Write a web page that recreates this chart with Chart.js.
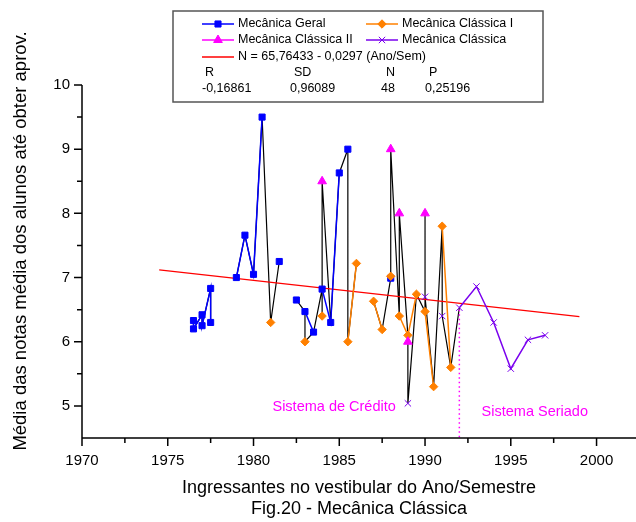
<!DOCTYPE html>
<html>
<head>
<meta charset="utf-8">
<script src="https://cdn.jsdelivr.net/npm/chart.js@4.4.0/dist/chart.umd.min.js"></script>
<style>
  html, body { margin: 0; padding: 0; background: #fff; }
</style>
</head>
<body>
<canvas id="grafico" width="636" height="522"></canvas>
<script>
// dados (ano/semestre de ingresso, média das notas)
// trecho: pontos vizinhos com o mesmo número (≠ 0) são ligados pela linha colorida da série

// Mecânica Geral
const geralAno = [1976.5, 1976.5, 1977, 1977, 1977.5, 1977.5, 1979, 1979.5, 1980, 1980.5, 1981.5, 1982.5, 1983, 1983.5, 1984, 1984.5, 1985, 1985.5, 1988];
const geralNota = [6.33, 6.20, 6.42, 6.25, 6.83, 6.30, 7.00, 7.66, 7.05, 9.50, 7.25, 6.65, 6.47, 6.15, 6.82, 6.30, 8.63, 9.00, 6.99];
const geralTrecho = [1, 1, 1, 1, 1, 1, 2, 2, 2, 2, 0, 0, 3, 3, 4, 4, 4, 0, 0];

// Mecânica Clássica I
const classIAno = [1981, 1983, 1984, 1985.5, 1986, 1987, 1987.5, 1988, 1988.5, 1989, 1989.5, 1990, 1990.5, 1991, 1991.5];
const classINota = [6.30, 6.00, 6.40, 6.00, 7.22, 6.63, 6.19, 7.02, 6.40, 6.10, 6.74, 6.47, 5.30, 7.80, 5.60];
const classITrecho = [0, 0, 0, 1, 1, 2, 2, 0, 3, 3, 3, 4, 4, 5, 5];

// Mecânica Clássica II
const classIIAno = [1984, 1988, 1988.5, 1989, 1990];
const classIINota = [8.50, 9.00, 8.00, 6.00, 8.00];
const classIITrecho = [0, 0, 0, 0, 0];

// Mecânica Clássica (sistema seriado)
const classicaAno = [1989, 1990, 1991, 1992, 1993, 1994, 1995, 1996, 1997];
const classicaNota = [5.04, 6.70, 6.40, 6.53, 6.86, 6.30, 5.58, 6.03, 6.10];
const classicaTrecho = [0, 0, 0, 1, 1, 1, 1, 1, 1];

// reta de regressão N = 65,76433 - 0,0297 (Ano/Sem)
const regAno = [1974.5, 1999];
const regNota = [7.12, 6.39];

// divisa entre os sistemas
const divisaAno = [1992, 1992];
const divisaNota = [6.5, 4.5];

const textos = ["Sistema de Crédito", "Sistema Seriado"];
const textoAno = [1984.7, 1996.4];
const textoNota = [4.98, 4.91];

const anosRotulos = [1970, 1975, 1980, 1985, 1990, 1995, 2000];
const anosMenores = [1972.5, 1977.5, 1982.5, 1987.5, 1992.5, 1997.5];
const notasRotulos = [5, 6, 7, 8, 9, 10];
const notasMenores = [5.5, 6.5, 7.5, 8.5, 9.5];

const estatNomes = ["R", "SD", "N", "P"];
const estatValores = ["-0,16861", "0,96089", "48", "0,25196"];

const tituloX = "Ingressantes no vestibular do Ano/Semestre";
const legendaFig = "Fig.20 - Mecânica Clássica";
const tituloY = "Média das notas média dos alunos até obter aprov.";

const fonte = "'Liberation Sans', Arial, sans-serif";

function montarTrechos(anos, notas, trechos) {
    const pts = [];
    for (let i = 0; i < anos.length; i++) {
        pts.push({ x: anos[i], y: notas[i] });
        if (i < anos.length - 1) {
            const liga = trechos[i] !== 0 && trechos[i] === trechos[i + 1];
            if (!liga) pts.push({ x: anos[i], y: null });
        }
    }
    return pts;
}

// linha preta: todos os pontos em ordem de ano/semestre, quebrada onde falta semestre
function montarSequencia() {
    const lista = [];
    [[geralAno, geralNota], [classIAno, classINota], [classIIAno, classIINota], [classicaAno, classicaNota]]
        .forEach((s, k) => s[0].forEach((a, i) => lista.push({ a: a, n: s[1][i], k: k, i: i })));
    lista.sort((p, q) => p.a - q.a || p.k - q.k || p.i - q.i);
    const pts = [];
    lista.forEach((p, j) => {
        pts.push({ x: p.a, y: p.n });
        if (j < lista.length - 1 && lista[j + 1].a - p.a > 0.51) pts.push({ x: p.a, y: null });
    });
    return pts;
}

const pares = (xs, ys) => xs.map((x, i) => ({ x: x, y: ys[i] }));

const series = [
    { label: "Mecânica Geral", data: montarTrechos(geralAno, geralNota, geralTrecho), borderColor: "#0000ff", backgroundColor: "#0000ff",
      pointStyle: "rect", pointRadius: 4.3, order: 4 },
    { label: "Mecânica Clássica I", data: montarTrechos(classIAno, classINota, classITrecho), borderColor: "#ff8000", backgroundColor: "#ff8000",
      pointStyle: "rectRot", pointRadius: 4.2, order: 3 },
    { label: "Mecânica Clássica II", data: montarTrechos(classIIAno, classIINota, classIITrecho), borderColor: "#ff00ff", backgroundColor: "#ff00ff",
      pointStyle: "triangle", pointRadius: 5, order: 2 },
    { label: "Mecânica Clássica", data: montarTrechos(classicaAno, classicaNota, classicaTrecho), borderColor: "#7a00ee", backgroundColor: "#7a00ee",
      pointStyle: "crossRot", pointRadius: 4.5, order: 1 }
];

const conjuntos = series.map(s => Object.assign({ borderWidth: 1.5, pointBorderWidth: 1, spanGaps: false, tension: 0 }, s));
conjuntos.push({ label: "sequência", data: montarSequencia(), borderColor: "#000", borderWidth: 1.2, pointRadius: 0, spanGaps: false, order: 7 });
conjuntos.push({ label: "regressão", data: pares(regAno, regNota), borderColor: "#ff0000", borderWidth: 1.2, pointRadius: 0, order: 5 });
conjuntos.push({ label: "divisa", data: pares(divisaAno, divisaNota), borderColor: "#ff00ff", borderWidth: 1.5, borderDash: [1.5, 3], pointRadius: 0, order: 6 });

// eixos com marcas maiores e menores, textos e legenda com estatísticas
const extras = {
    id: "extras",
    afterDraw(chart) {
        const c = chart.ctx;
        const sx = chart.scales.x, sy = chart.scales.y;
        const a = chart.chartArea;
        c.save();
        c.strokeStyle = "#000";
        c.lineWidth = 1.5;
        c.beginPath();
        c.moveTo(a.left, a.top); c.lineTo(a.left, a.bottom);
        c.moveTo(a.left, a.bottom); c.lineTo(a.right, a.bottom);
        anosRotulos.forEach(v => { const px = sx.getPixelForValue(v); c.moveTo(px, a.bottom); c.lineTo(px, a.bottom + 8); });
        anosMenores.forEach(v => { const px = sx.getPixelForValue(v); c.moveTo(px, a.bottom); c.lineTo(px, a.bottom + 5); });
        notasRotulos.forEach(v => { const py = sy.getPixelForValue(v); c.moveTo(a.left, py); c.lineTo(a.left - 8, py); });
        notasMenores.forEach(v => { const py = sy.getPixelForValue(v); c.moveTo(a.left, py); c.lineTo(a.left - 5, py); });
        c.stroke();

        // título do eixo y
        c.fillStyle = "#000";
        c.font = "18.5px " + fonte;
        c.textAlign = "center";
        c.textBaseline = "middle";
        c.translate(21, 241);
        c.rotate(-Math.PI / 2);
        c.fillText(tituloY, 0, 0);
        c.restore();

        // textos dos sistemas
        c.save();
        c.fillStyle = "#ff00ff";
        c.font = "14.5px " + fonte;
        c.textAlign = "center";
        c.textBaseline = "middle";
        textos.forEach((t, i) => c.fillText(t, sx.getPixelForValue(textoAno[i]), sy.getPixelForValue(textoNota[i])));
        c.restore();

        // legenda
        c.save();
        c.fillStyle = "#fff";
        c.fillRect(173, 11, 370, 91);
        c.strokeStyle = "#555";
        c.lineWidth = 1.5;
        c.strokeRect(173, 11, 370, 91);
        c.font = "12.5px " + fonte;
        c.textBaseline = "middle";
        c.textAlign = "left";
        const amostra = (ds, x0, y) => {
            c.strokeStyle = ds.borderColor;
            c.lineWidth = 1.5;
            c.beginPath(); c.moveTo(x0, y); c.lineTo(x0 + 32, y); c.stroke();
            if (ds.pointStyle) {
                c.fillStyle = ds.backgroundColor;
                c.lineWidth = 1;
                Chart.helpers.drawPoint(c, { pointStyle: ds.pointStyle, radius: ds.pointRadius, rotation: 0, borderWidth: 1 }, x0 + 16, y);
            }
        };
        const pos = [[202, 24], [366, 24], [202, 40], [366, 40]];
        conjuntos.slice(0, 4).forEach((ds, i) => {
            amostra(ds, pos[i][0], pos[i][1]);
            c.fillStyle = "#000";
            c.fillText(ds.label, pos[i][0] + 36, pos[i][1]);
        });
        amostra(conjuntos[5], 202, 57);
        c.fillStyle = "#000";
        c.fillText("N = 65,76433 - 0,0297 (Ano/Sem)", 238, 57);
        const colNome = [205, 294, 386, 429];
        const colValor = [202, 290, 381, 425];
        estatNomes.forEach((t, i) => c.fillText(t, colNome[i], 73));
        estatValores.forEach((t, i) => c.fillText(t, colValor[i], 89));
        c.restore();
    }
};

const ctx = document.getElementById("grafico").getContext("2d");
const grafico = new Chart(ctx, {
    type: "line",
    data: { datasets: conjuntos },
    options: {
        responsive: false,
        animation: false,
        layout: { autoPadding: false, padding: { top: 85, right: 0, bottom: 0, left: 0 } },
        plugins: { legend: { display: false }, tooltip: { enabled: false } },
        scales: {
            x: {
                type: "linear", min: 1970, max: 2002.3,
                grid: { display: false, drawTicks: false }, border: { display: false },
                ticks: { color: "#000", font: { family: fonte, size: 15 }, padding: 14, maxRotation: 0, autoSkip: false, callback: v => String(v) },
                afterBuildTicks: s => { s.ticks = anosRotulos.map(v => ({ value: v })); },
                afterFit: s => { s.height = 84; },
                title: { display: true, text: [tituloX, legendaFig], color: "#000", font: { family: fonte, size: 18 }, padding: { top: 0, bottom: 2 } }
            },
            y: {
                type: "linear", min: 4.5, max: 10,
                grid: { display: false, drawTicks: false }, border: { display: false },
                ticks: { color: "#000", font: { family: fonte, size: 15 }, padding: 12, callback: v => String(v) },
                afterBuildTicks: s => { s.ticks = notasRotulos.map(v => ({ value: v })); },
                afterFit: s => { s.width = 82; }
            }
        }
    },
    plugins: [extras]
});
</script>
</body>
</html>
